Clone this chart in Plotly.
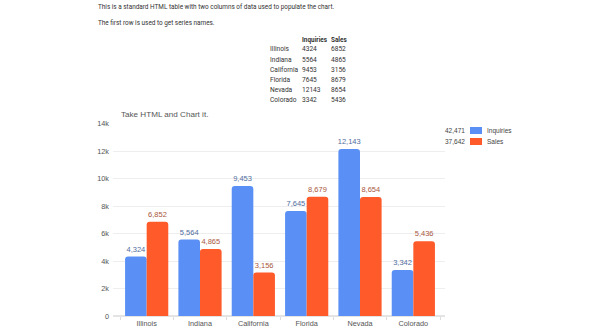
import plotly.graph_objects as go

categories = ["Illinois", "Indiana", "California", "Florida", "Nevada", "Colorado"]
inquiries = [4324, 5564, 9453, 7645, 12143, 3342]
sales = [6852, 4865, 3156, 8679, 8654, 5436]
series_names = ["Inquiries", "Sales"]
y_ticks = [0, 2000, 4000, 6000, 8000, 10000, 12000, 14000]

W, H = 604, 332
BLUE = "#5A90F6"
ORANGE = "#FF5A29"
CHART_FONT = "Liberation Sans"


def px(x):
    return x / W


def py(y):
    return 1 - y / H


fig = go.Figure()
fig.add_trace(go.Bar(x=categories, y=inquiries, name=series_names[0],
                     marker=dict(color=BLUE, line=dict(width=0)),
                     texttemplate="%{y:,}", textposition="outside", constraintext="none",
                     textfont=dict(color="#4F6D9E", size=7.5, family=CHART_FONT),
                     cliponaxis=False))
fig.add_trace(go.Bar(x=categories, y=sales, name=series_names[1],
                     marker=dict(color=ORANGE, line=dict(width=0)),
                     texttemplate="%{y:,}", textposition="outside", constraintext="none",
                     textfont=dict(color="#A9573D", size=7.5, family=CHART_FONT),
                     cliponaxis=False))

x0, x1 = 113, 445
cat_w = (440 - 120) / 6
fig.update_layout(
    width=W, height=H, margin=dict(l=0, r=0, t=0, b=0, autoexpand=False),
    paper_bgcolor="white", plot_bgcolor="white",
    showlegend=False, barmode="group", bargap=0.19, bargroupgap=0,
    barcornerradius=3,
    font=dict(family=CHART_FONT, size=7, color="#555"),
    xaxis=dict(domain=[px(x0), px(x1)], automargin=False,
               range=[-0.5 - (120 - x0) / cat_w, 5.5 + (x1 - 440) / cat_w],
               tickson="boundaries", ticks="outside", ticklen=3, tickcolor="#ddd",
               showline=False, showgrid=False, tickfont=dict(size=7.3, color="#555"),
               ticklabelstandoff=2, fixedrange=True),
    yaxis=dict(domain=[py(316), py(123.5)], range=[0, 14000], automargin=False,
               tickvals=y_ticks, tickformat="~s", showgrid=True,
               gridcolor="#EEEEEE", gridwidth=1, zeroline=True, zerolinecolor="#E4E4E4",
               ticks="", tickfont=dict(size=7.3, color="#555"), ticklabelstandoff=3,
               fixedrange=True),
)

ann = []
body_font = dict(family="Roboto", size=6.4, color="#333")
ann.append(dict(text="This is a standard HTML table with two columns of data used to populate the chart.",
                x=px(96), y=py(7.5), xanchor="left", yanchor="middle", font=body_font))
ann.append(dict(text="The first row is used to get series names.",
                x=px(96), y=py(23.3), xanchor="left", yanchor="middle", font=body_font))
# table
col_x = [268, 300, 329]
ann.append(dict(text="<b>" + series_names[0] + "</b>", x=px(col_x[1]), y=py(39.5),
                xanchor="left", yanchor="middle", font=body_font))
ann.append(dict(text="<b>" + series_names[1] + "</b>", x=px(col_x[2]), y=py(39.5),
                xanchor="left", yanchor="middle", font=body_font))
for i, (c, a, b) in enumerate(zip(categories, inquiries, sales)):
    yy = py(49.5 + i * 10.1)
    for xx, t in zip(col_x, [c, str(a), str(b)]):
        ann.append(dict(text=t, x=px(xx), y=yy, xanchor="left", yanchor="middle",
                        font=dict(family="Roboto", size=6.6, color="#333")))

# chart title
ann.append(dict(text="Take HTML and Chart it.", x=px(119), y=py(115), xanchor="left", yanchor="middle",
                font=dict(family=CHART_FONT, size=8.1, color="#555")))

# legend
shapes = []
for i, (name, vals, col) in enumerate(zip(series_names, [inquiries, sales], [BLUE, ORANGE])):
    yc = 130.5 + i * 11
    ann.append(dict(text=f"{sum(vals):,}", x=px(467), y=py(yc), xanchor="right", yanchor="middle",
                    font=dict(family=CHART_FONT, size=6.5, color="#444")))
    ann.append(dict(text=name, x=px(484.5), y=py(yc), xanchor="left", yanchor="middle",
                    font=dict(family=CHART_FONT, size=6.5, color="#444")))
    shapes.append(dict(type="rect", xref="paper", yref="paper", x0=px(470), x1=px(482),
                       y0=py(yc + 3.5), y1=py(yc - 3.5), fillcolor=col, line=dict(width=0)))

for a in ann:
    a.update(xref="paper", yref="paper", showarrow=False)
fig.update_layout(annotations=ann, shapes=shapes)

fig.write_html("out.html")
